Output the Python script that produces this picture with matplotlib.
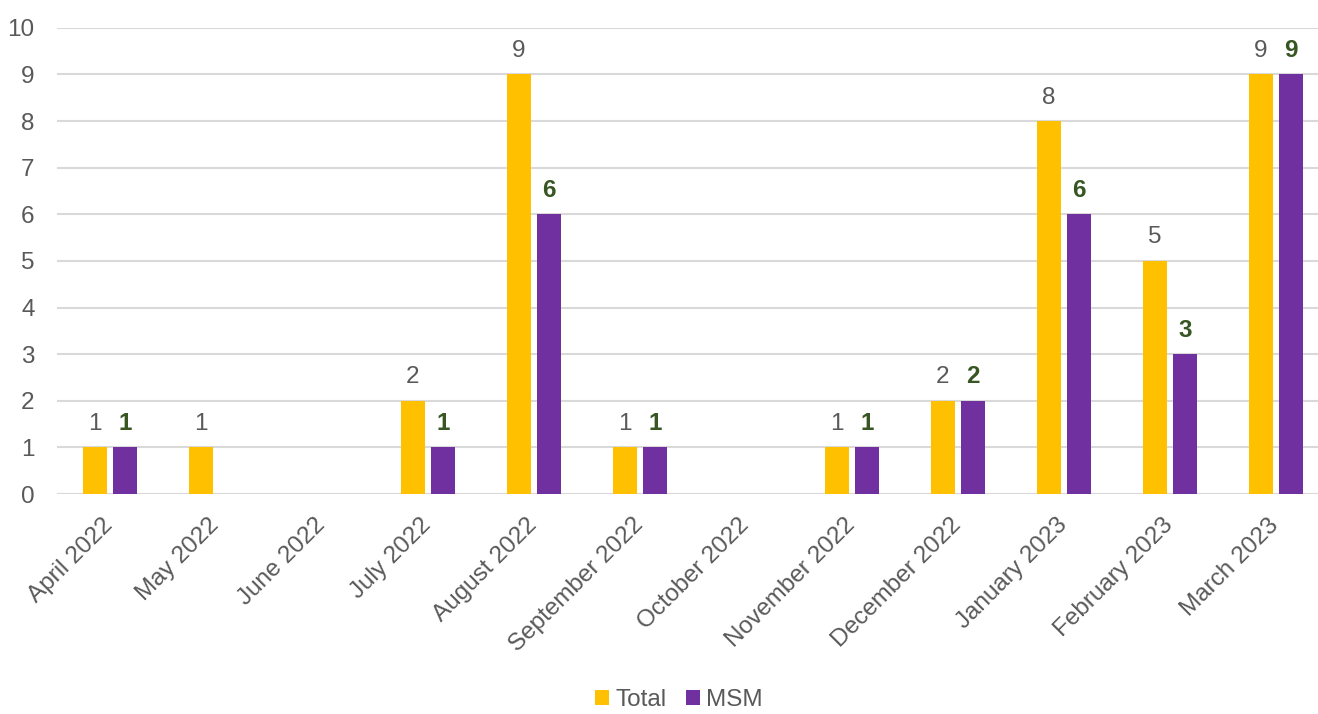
import matplotlib
matplotlib.use("Agg")
import matplotlib.pyplot as plt
import numpy as np

plt.rcParams['font.family'] = ['Liberation Sans', 'DejaVu Sans']

months = ["April 2022", "May 2022", "June 2022", "July 2022", "August 2022",
          "September 2022", "October 2022", "November 2022", "December 2022",
          "January 2023", "February 2023", "March 2023"]
total = [1, 1, 0, 2, 9, 1, 0, 1, 2, 8, 5, 9]
msm = [1, 0, 0, 1, 6, 1, 0, 1, 2, 6, 3, 9]

fig = plt.figure(figsize=(13.18, 7.14), dpi=100)
ax = fig.add_axes([0.0432, 0.308, 0.965, 0.653])

x = np.arange(len(months))
w = 0.225
gap = 0.058
off = (w + gap) / 2
b1 = ax.bar(x - off, total, w, color="#FFC000", label="Total", zorder=3)
b2 = ax.bar(x + off, msm, w, color="#7030A0", label="MSM", zorder=3)

for xi, v in zip(x, total):
    if v > 0:
        ax.annotate(str(v), (xi - off, v), xytext=(0, 9), textcoords="offset points",
                    ha="center", va="bottom", fontsize=17.5, color="#595959")
for xi, v in zip(x, msm):
    if v > 0:
        ax.annotate(str(v), (xi + off, v), xytext=(0, 9), textcoords="offset points",
                    ha="center", va="bottom", fontsize=17.5, color="#375623", fontweight="bold")

ax.set_xlim(-0.5, len(months) - 0.5)
ax.set_ylim(0, 10)
ax.set_yticks(range(0, 11))
ax.yaxis.grid(True, color="#D9D9D9", linewidth=1.5, zorder=0)
ax.set_axisbelow(True)
for s in ax.spines.values():
    s.set_visible(False)
ax.axhline(0, color="#D9D9D9", linewidth=1.5, zorder=1)
ax.tick_params(axis="both", length=0, labelsize=17.5, labelcolor="#595959")
ax.tick_params(axis="y", pad=16)
ax.set_xticks(x)
ax.set_xticklabels(months, rotation=45, ha="right", va="center", rotation_mode="anchor")
ax.tick_params(axis="x", pad=20)

leg = fig.legend(handles=[b1, b2], labels=["Total", "MSM"], loc="lower center",
                 bbox_to_anchor=(0.515, -0.026), ncol=2, frameon=False, fontsize=17.5,
                 handlelength=0.58, handleheight=0.58, handletextpad=0.25, columnspacing=0.8)
for t in leg.get_texts():
    t.set_color("#595959")

fig.savefig("out.png", dpi=100)
